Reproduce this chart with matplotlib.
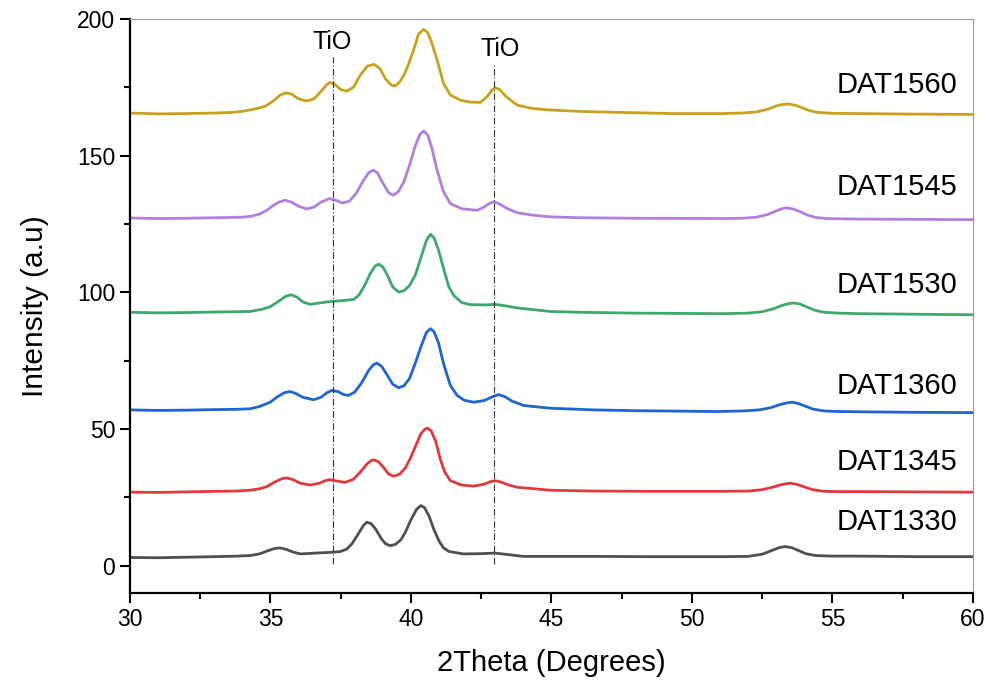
import matplotlib
matplotlib.use("Agg")
import matplotlib.pyplot as plt
from matplotlib.ticker import MultipleLocator

plt.rcParams['font.family'] = ['Liberation Sans', 'DejaVu Sans']

# ---- data ----
x_1560 = [30.0, 31.0, 32.0, 33.0, 33.6, 34.0, 34.4, 34.8, 35.1, 35.35, 35.56, 35.75, 36.0, 36.29,
          36.55, 36.8, 37.0, 37.12, 37.3, 37.5, 37.72, 37.95, 38.2, 38.45, 38.69, 38.9, 39.1, 39.3,
          39.44, 39.6, 39.75, 39.9, 40.09, 40.27, 40.45, 40.6, 40.75, 40.93, 41.16, 41.4, 41.76, 42.1,
          42.47, 42.7, 42.9, 43.0, 43.15, 43.4, 43.78, 44.3, 44.96, 46.0, 47.5, 49.35, 51.0, 51.8,
          52.3, 52.7, 53.0, 53.2, 53.44, 53.7, 53.95, 54.2, 54.5, 55.0, 56.0, 58.0, 60.0]
y_1560 = [165.6, 165.3, 165.4, 165.6, 165.8, 166.2, 167.0, 168.0, 170.0, 172.2, 173.0, 172.5, 170.8, 170.0,
          170.8, 173.5, 176.0, 176.8, 176.0, 174.2, 173.6, 175.0, 179.5, 182.8, 183.4, 181.8, 178.0, 175.8,
          175.5, 177.0, 179.5, 183.0, 188.6, 194.5, 196.2, 195.0, 191.0, 185.0, 176.4, 172.2, 170.3, 169.6,
          169.5, 171.5, 174.2, 174.8, 174.2, 171.5, 168.5, 167.3, 166.7, 166.2, 165.8, 165.4, 165.4, 165.6,
          166.0, 167.0, 168.2, 168.7, 168.9, 168.4, 167.4, 166.4, 165.8, 165.5, 165.4, 165.2, 165.1]

x_1545 = [30.0, 31.0, 32.0, 33.0, 33.6, 34.0, 34.3, 34.6, 34.87, 35.1, 35.3, 35.52, 35.75, 36.0,
          36.29, 36.55, 36.8, 37.1, 37.35, 37.54, 37.8, 38.05, 38.3, 38.5, 38.65, 38.8, 39.0, 39.2,
          39.36, 39.55, 39.75, 39.95, 40.15, 40.32, 40.45, 40.6, 40.75, 40.93, 41.15, 41.4, 41.8, 42.35,
          42.6, 42.8, 42.94, 43.1, 43.4, 43.78, 44.3, 44.96, 46.0, 48.0, 51.1, 51.8, 52.3, 52.7,
          53.0, 53.2, 53.37, 53.6, 53.85, 54.1, 54.4, 54.8, 56.0, 58.0, 60.0]
y_1545 = [127.2, 127.0, 127.1, 127.3, 127.4, 127.5, 127.8, 128.6, 130.0, 131.8, 133.0, 133.7, 133.0, 131.5,
          130.5, 131.2, 133.0, 134.3, 133.6, 132.7, 133.3, 136.2, 140.8, 143.8, 144.7, 143.8, 140.0, 136.5,
          135.5, 136.8, 140.5, 146.5, 153.5, 157.8, 159.0, 157.5, 152.5, 144.7, 137.0, 132.5, 130.6, 130.0,
          131.2, 132.6, 133.1, 132.6, 130.8, 129.1, 128.3, 127.6, 127.3, 127.1, 127.0, 127.1, 127.5, 128.5,
          129.8, 130.6, 130.9, 130.5, 129.5, 128.3, 127.4, 127.0, 126.8, 126.7, 126.6]

x_1530 = [30.0, 31.0, 32.0, 33.0, 33.8, 34.27, 34.7, 35.0, 35.3, 35.55, 35.74, 35.95, 36.15, 36.41,
          36.8, 37.18, 37.6, 37.96, 38.15, 38.35, 38.55, 38.72, 38.85, 39.0, 39.15, 39.35, 39.56, 39.75,
          39.95, 40.15, 40.35, 40.55, 40.69, 40.82, 40.98, 41.16, 41.35, 41.52, 41.8, 42.11, 42.6, 43.0,
          43.4, 43.78, 44.96, 46.0, 48.0, 51.1, 52.0, 52.5, 52.9, 53.2, 53.45, 53.63, 53.85, 54.1,
          54.35, 54.7, 55.2, 56.0, 58.0, 60.0]
y_1530 = [92.7, 92.5, 92.6, 92.8, 92.9, 93.0, 93.8, 94.8, 96.8, 98.6, 99.1, 98.2, 96.5, 95.6,
          96.2, 96.7, 97.0, 97.4, 99.0, 102.5, 106.8, 109.6, 110.3, 109.3, 106.5, 102.0, 100.1, 100.6,
          102.5, 106.2, 112.5, 119.0, 121.2, 120.0, 115.5, 108.7, 102.0, 98.9, 96.3, 95.5, 95.4, 95.6,
          95.0, 94.3, 93.0, 92.7, 92.4, 92.2, 92.4, 92.9, 94.0, 95.2, 95.9, 96.1, 95.7, 94.6,
          93.5, 92.7, 92.4, 92.2, 92.0, 91.8]

x_1360 = [30.0, 31.0, 32.0, 33.0, 33.8, 34.27, 34.6, 34.99, 35.25, 35.5, 35.7, 35.9, 36.15, 36.53,
          36.8, 37.0, 37.18, 37.4, 37.6, 37.78, 38.0, 38.25, 38.5, 38.67, 38.79, 38.95, 39.15, 39.35,
          39.56, 39.75, 39.95, 40.15, 40.35, 40.55, 40.69, 40.82, 40.98, 41.16, 41.4, 41.64, 41.9, 42.23,
          42.6, 42.9, 43.12, 43.35, 43.6, 44.01, 44.96, 46.5, 48.0, 50.9, 51.8, 52.4, 52.8, 53.15,
          53.4, 53.57, 53.8, 54.05, 54.3, 54.7, 55.2, 56.0, 58.0, 60.0]
y_1360 = [57.0, 56.8, 56.9, 57.1, 57.2, 57.4, 58.2, 59.8, 61.8, 63.3, 63.7, 63.0, 61.6, 60.7,
          61.6, 63.2, 64.1, 63.7, 62.6, 62.3, 63.5, 67.0, 71.5, 73.6, 74.1, 73.0, 69.8, 66.4,
          65.1, 65.8, 68.5, 74.0, 80.0, 85.3, 86.7, 85.6, 81.5, 73.9, 66.0, 62.3, 60.5, 59.8,
          60.4, 61.8, 62.6, 61.8, 60.2, 58.6, 57.6, 57.0, 56.7, 56.4, 56.6, 57.0, 57.8, 59.0,
          59.6, 59.8, 59.3, 58.3, 57.3, 56.6, 56.4, 56.3, 56.1, 56.0]

x_1345 = [30.0, 31.0, 32.0, 33.0, 33.8, 34.27, 34.6, 34.87, 35.15, 35.4, 35.58, 35.8, 36.05, 36.41,
          36.75, 36.95, 37.12, 37.35, 37.66, 37.95, 38.2, 38.45, 38.6, 38.69, 38.85, 39.05, 39.2, 39.38,
          39.6, 39.8, 39.97, 40.15, 40.35, 40.5, 40.59, 40.72, 40.88, 41.04, 41.2, 41.4, 41.8, 42.23,
          42.6, 42.85, 43.0, 43.2, 43.45, 43.78, 44.96, 46.5, 48.5, 51.1, 52.0, 52.5, 52.9, 53.2,
          53.49, 53.75, 54.0, 54.3, 54.7, 55.2, 56.0, 58.0, 60.0]
y_1345 = [26.9, 26.8, 27.0, 27.2, 27.3, 27.6, 28.1, 28.9, 30.6, 31.8, 32.1, 31.5, 30.2, 29.5,
          30.2, 31.1, 31.5, 31.0, 30.5, 31.6, 34.3, 37.4, 38.5, 38.7, 38.0, 35.6, 33.6, 32.7,
          33.5, 35.8, 39.1, 43.4, 48.2, 50.0, 50.3, 49.3, 45.5, 39.1, 34.3, 31.1, 29.5, 29.1,
          29.8, 30.8, 31.1, 30.6, 29.6, 28.7, 27.6, 27.3, 27.2, 27.2, 27.3, 27.8, 28.8, 29.7,
          30.2, 29.7, 28.8, 27.8, 27.2, 27.1, 27.1, 27.0, 26.9]

x_1330 = [30.0, 31.0, 32.0, 33.0, 33.8, 34.27, 34.6, 34.95, 35.15, 35.34, 35.55, 35.8, 36.06, 36.6,
          37.18, 37.5, 37.72, 37.9, 38.1, 38.3, 38.43, 38.58, 38.75, 38.95, 39.1, 39.26, 39.45, 39.65,
          39.8, 40.0, 40.2, 40.35, 40.48, 40.65, 40.81, 41.0, 41.15, 41.35, 41.87, 42.5, 43.0, 43.5,
          44.01, 44.96, 46.5, 48.5, 51.1, 52.0, 52.5, 52.85, 53.1, 53.31, 53.55, 53.8, 54.05, 54.4,
          55.0, 56.0, 58.0, 60.0]
y_1330 = [3.0, 2.9, 3.1, 3.3, 3.5, 3.7, 4.3, 5.6, 6.3, 6.5, 6.0, 5.0, 4.3, 4.6,
          4.9, 5.2, 6.1, 8.0, 11.2, 14.6, 15.9, 15.4, 13.3, 9.8, 8.0, 7.3, 7.8, 9.6,
          12.2, 16.8, 20.6, 22.0, 21.3, 18.0, 13.4, 9.0, 6.6, 5.2, 4.3, 4.4, 4.6, 4.0,
          3.4, 3.4, 3.4, 3.3, 3.3, 3.4, 4.2, 5.6, 6.6, 7.0, 6.6, 5.5, 4.4, 3.7,
          3.5, 3.5, 3.3, 3.3]

series_names = ["DAT1560", "DAT1545", "DAT1530", "DAT1360", "DAT1345", "DAT1330"]
label_y = [175.8, 138.6, 102.6, 65.9, 37.8, 15.9]
tio_x = [37.21, 42.97]
tio_text_y = [191.5, 189.0]

colors = ["#C9A020", "#B07FDC", "#3DA86C", "#1F64D0", "#E0393C", "#4F4F4F"]
xs = [x_1560, x_1545, x_1530, x_1360, x_1345, x_1330]
ys = [y_1560, y_1545, y_1530, y_1360, y_1345, y_1330]

fig = plt.figure(figsize=(9.89, 6.81), dpi=100)
ax = fig.add_axes([0.1314, 0.1292, 0.8524, 0.8429])

for xv, yv, c in zip(xs, ys, colors):
    ax.plot(xv, yv, color=c, lw=2.0, solid_joinstyle='round', solid_capstyle='round')

# TiO reference lines
ax.plot([tio_x[0], tio_x[0]], [0.5, 186.0], color="#333333", lw=0.8, ls=(0, (6, 2, 1, 2)))
ax.plot([tio_x[1], tio_x[1]], [0.5, 184.0], color="#333333", lw=0.8, ls=(0, (6, 2, 1, 2)))
ax.text(tio_x[0], tio_text_y[0], "TiO", ha='center', va='center', fontsize=18)
ax.text(tio_x[1] + 0.2, tio_text_y[1], "TiO", ha='center', va='center', fontsize=18)

for name, ly in zip(series_names, label_y):
    ax.text(59.45, ly, name, ha='right', va='center', fontsize=21)

ax.set_xlim(30, 60)
ax.set_ylim(-10, 200)
ax.xaxis.set_major_locator(MultipleLocator(5))
ax.xaxis.set_minor_locator(MultipleLocator(2.5))
ax.yaxis.set_major_locator(MultipleLocator(50))
ax.yaxis.set_minor_locator(MultipleLocator(25))
ax.tick_params(which='major', direction='out', length=7, width=1.5, labelsize=16.5)
ax.tick_params(which='minor', direction='out', length=4.5, width=1.5)

for s in ['left', 'bottom']:
    ax.spines[s].set_linewidth(1.6)
    ax.spines[s].set_color('black')
for s in ['top', 'right']:
    ax.spines[s].set_linewidth(0.8)
    ax.spines[s].set_color('#999999')

ax.set_xlabel("2Theta (Degrees)", fontsize=21, labelpad=13)
ax.set_ylabel("Intensity (a.u)", fontsize=21.5, labelpad=20)

fig.savefig("out.png", dpi=100)
